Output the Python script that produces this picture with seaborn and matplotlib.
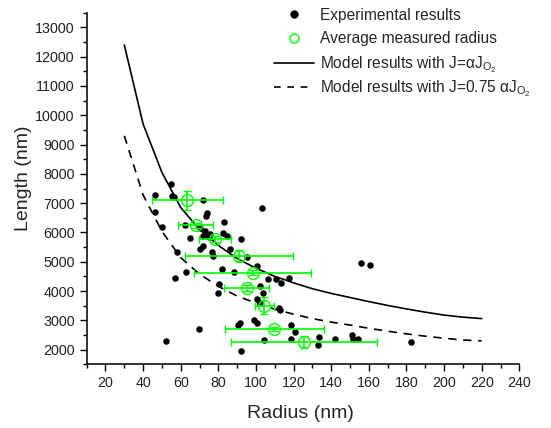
import numpy as np
import pandas as pd
import matplotlib
matplotlib.use("Agg")
import matplotlib.pyplot as plt
from matplotlib.ticker import MultipleLocator
from matplotlib.lines import Line2D
import seaborn as sns

# ---- data ----
exp_radius = [46.5, 46.5, 49.8, 54.9, 55.3, 56.5, 57.8, 56.9, 62.7, 52.0, 69.8,
              62.5, 64.8, 71.9, 74.0, 73.3, 82.9, 70.2, 72.8, 73.7, 71.9, 74.8,
              82.6, 84.4, 92.3, 70.2, 71.9, 76.4, 77.3, 86.3, 95.3, 81.8, 88.2,
              100.4, 106.5, 110.6, 113.4, 117.3, 80.3, 79.8, 102.4, 104.0, 100.6,
              102.4, 112.0, 113.0, 91.6, 90.5, 98.7, 100.6, 92.0, 118.6, 121.0,
              104.2, 118.7, 133.3, 133.2, 142.0, 150.9, 151.7, 154.4, 103.3,
              155.8, 160.4, 182.4, 75.5]
exp_length = [7270, 6700, 6190, 7640, 7260, 7200, 5320, 4430, 4660, 2280, 2690,
              6240, 5800, 7105, 6680, 6570, 6370, 6150, 6040, 5925, 5870, 5850,
              5980, 5870, 5760, 5430, 5555, 5350, 5190, 5450, 5165, 4740, 4645,
              4850, 4415, 4410, 4285, 4455, 4258, 3940, 4170, 3920, 3720,
              3595, 3420, 3340, 2905, 2840, 3020, 2900, 1942, 2853, 2610,
              2345, 2365, 2420, 2171, 2360, 2512, 2365, 2365, 6836,
              4960, 4890, 2263, 5950]

avg_radius = [63.6, 68.0, 78.1, 91.1, 98.2, 95.0, 104.4, 109.7, 125.6]
avg_length = [7100, 6240, 5780, 5200, 4630, 4105, 3500, 2705, 2270]
avg_radius_err = [19.0, 9.2, 8.4, 28.8, 31.1, 11.8, 5.0, 26.4, 38.8]
avg_length_err = [320, 100, 100, 190, 80, 100, 290, 80, 210]

model_radius = [30, 40, 50, 60, 70, 80, 90, 100, 110, 120, 130, 140, 150, 160,
                170, 180, 190, 200, 210, 220]
model_length_full = [12400, 9700, 8050, 6850, 6100, 5560, 5110, 4780, 4500, 4280,
                     4080, 3920, 3780, 3640, 3510, 3390, 3280, 3180, 3110, 3060]
model_length_075 = [9300, 7280, 6040, 5140, 4580, 4160, 3830, 3590, 3380, 3210,
                    3060, 2940, 2840, 2730, 2630, 2540, 2460, 2390, 2330, 2300]

# ---- style ----
sns.set_style("ticks")
plt.rcParams["font.family"] = ["Liberation Sans", "DejaVu Sans"]
plt.rcParams["mathtext.fontset"] = "custom"
plt.rcParams["mathtext.rm"] = "Liberation Sans"
plt.rcParams["mathtext.it"] = "Liberation Sans"

fig = plt.figure(figsize=(5.51, 4.28), dpi=100)
ax = fig.add_axes([0.1573, 0.1488, 0.7852, 0.8215])

exp_df = pd.DataFrame({"radius": exp_radius, "length": exp_length})
model_df = pd.DataFrame({"radius": model_radius,
                         "full": model_length_full,
                         "scaled": model_length_075})

green = "#00FF00"

sns.lineplot(data=model_df, x="radius", y="full", ax=ax, color="black",
             linewidth=1.2, legend=False)
sns.lineplot(data=model_df, x="radius", y="scaled", ax=ax, color="black",
             linewidth=1.2, legend=False)
ax.lines[-1].set_dashes([5, 4])

sns.scatterplot(data=exp_df, x="radius", y="length", ax=ax, color="black",
                s=22, edgecolor="black", linewidth=0, zorder=3, legend=False)

ax.errorbar(avg_radius, avg_length, xerr=avg_radius_err, yerr=avg_length_err,
            fmt="o", color=green, ecolor=green, markerfacecolor="none",
            markeredgecolor=green, markersize=8.5, markeredgewidth=1.0,
            elinewidth=1.2, capsize=3, capthick=1.2, zorder=4)

ax.set_xlim(10, 240)
ax.set_ylim(1500, 13500)
ax.xaxis.set_minor_locator(MultipleLocator(10))
ax.yaxis.set_minor_locator(MultipleLocator(500))
ax.set_xticks(np.arange(20, 241, 20))
ax.set_yticks(np.arange(2000, 13001, 1000))
ax.tick_params(which="major", direction="out", length=5, width=1.0,
               labelsize=10.3, color="black", labelcolor="#222222")
ax.tick_params(which="minor", direction="out", length=3, width=1.0,
               color="black")
for side in ["top", "right"]:
    ax.spines[side].set_visible(False)
for side in ["left", "bottom"]:
    ax.spines[side].set_linewidth(1.3)
    ax.spines[side].set_color("#222222")

ax.set_xlabel("Radius (nm)", fontsize=14)
ax.set_ylabel("Length (nm)", fontsize=14)
ax.xaxis.set_label_coords(0.495, -0.115)
ax.yaxis.set_label_coords(-0.127, 0.528)

handles_a = [
    Line2D([], [], linestyle="none", marker="o", color="black", markersize=5),
    Line2D([], [], linestyle="none", marker="o", markerfacecolor="none",
           markeredgecolor=green, markersize=6.5),
]
labels_a = ["Experimental results", "Average measured radius"]
handles_b = [
    Line2D([], [], color="black", linewidth=1.2),
    Line2D([], [], color="black", linewidth=1.2, dashes=[4, 4]),
]
labels_b = [r"Model results with J=$\alpha$J$_{O_2}$",
            r"Model results with J=0.75 $\alpha$J$_{O_2}$"]
common = dict(loc="upper left", frameon=False, fontsize=11.2,
              handlelength=2.55, handletextpad=0.43, borderpad=0,
              borderaxespad=0)
leg_a = fig.legend(handles_a, labels_a, bbox_to_anchor=(0.497, 0.982),
                   labelspacing=0.55, **common)
leg_b = fig.legend(handles_b, labels_b, bbox_to_anchor=(0.497, 0.873),
                   labelspacing=0.23, **common)

fig.savefig("out.png", dpi=100)
